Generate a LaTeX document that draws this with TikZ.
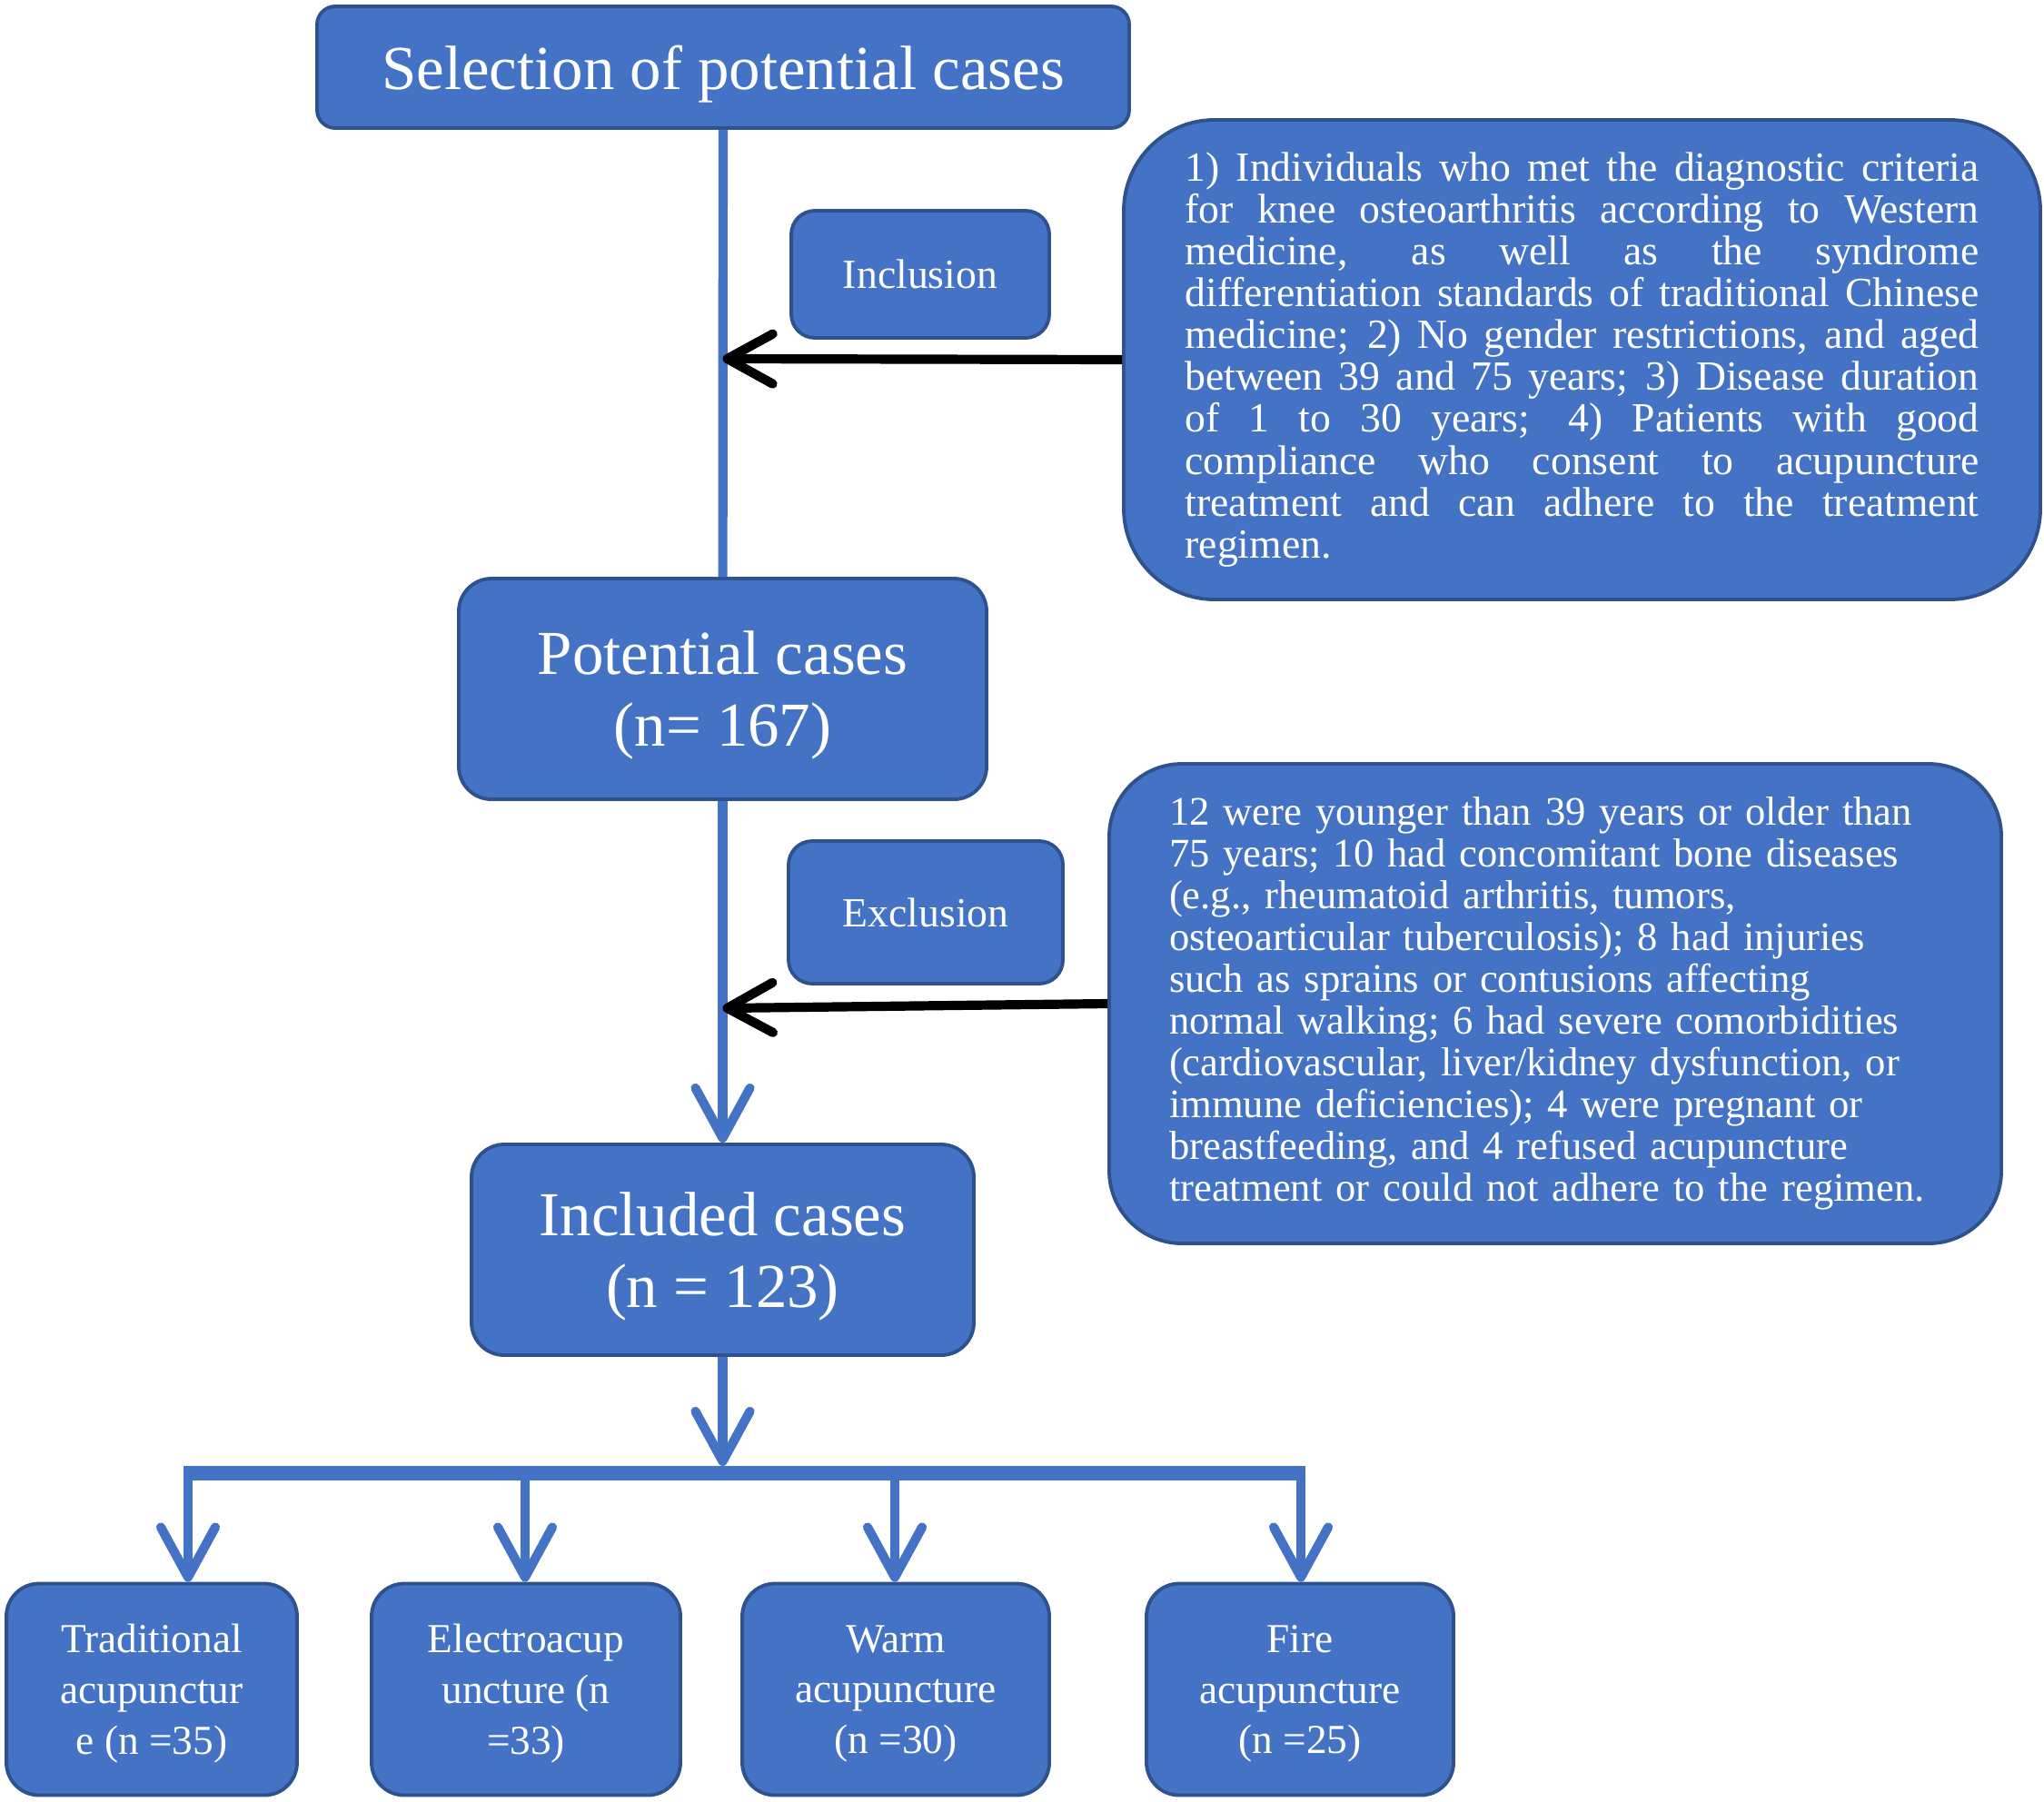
\documentclass[tikz,border=0pt]{standalone}
\usepackage{fontspec}
\setmainfont{Liberation Serif}
\usetikzlibrary{arrows.meta,calc}
\definecolor{boxblue}{RGB}{68,114,196}
\definecolor{edgeblue}{RGB}{47,82,143}
\tikzset{
  block/.style={draw=edgeblue, line width=1.1pt, fill=boxblue, text=white, align=center, inner sep=0pt},
  bigtext/.style={font=\fontsize{19.6}{22.5}\selectfont, text depth=0pt},
  midtext/.style={font=\fontsize{13}{15}\selectfont},
  armtext/.style={font=\fontsize{12.9}{15.9}\selectfont, text depth=0pt},
  notetext/.style={font=\fontsize{13}{13.1}\selectfont},
  droptext/.style={font=\fontsize{12.7}{13.1}\selectfont},
  flow/.style={boxblue, line width=2.9pt},
  flowhead/.style={flow, -{Straight Barb[length=0.55cm,width=0.6cm,round]}},
  pointer/.style={black, line width=2.9pt, -{Straight Barb[length=0.5cm,width=0.55cm,round]}}
}

\begin{document}
\begin{tikzpicture}
    \useasboundingbox (0,0) rectangle (22.5,-19.83);
    % main column
    \node [block, bigtext, rounded corners=0.2cm, minimum width=8.94cm, minimum height=1.34cm] (sel) at (7.96,-0.74) {Selection of potential cases};
    \node [block, bigtext, rounded corners=0.36cm, minimum width=5.81cm, minimum height=2.43cm] (pot) at (7.955,-7.585) {Potential cases\\(n= 167)};
    \node [block, bigtext, rounded corners=0.36cm, minimum width=5.53cm, minimum height=2.32cm] (inc) at (7.955,-13.76) {Included cases\\(n = 123)};
    % labels beside the column
    \node [block, midtext, rounded corners=0.26cm, minimum width=2.84cm, minimum height=1.40cm] (incl) at (10.13,-3.02) {Inclusion};
    \node [block, midtext, rounded corners=0.26cm, minimum width=3.02cm, minimum height=1.57cm] (excl) at (10.19,-10.045) {Exclusion};
    % criteria
    \node [block, notetext, rounded corners=1cm, minimum width=10.09cm, minimum height=5.28cm, text width=8.74cm, align=justify] (crit) at (17.415,-3.96)
    {\emergencystretch=1em 1) Individuals who met the diagnostic criteria\linebreak
    for knee osteoarthritis according to Western\linebreak
    medicine, as well as the syndrome\linebreak
    differentiation standards of traditional Chinese\linebreak
    medicine; 2) No gender restrictions, and aged\linebreak
    between 39 and 75 years; 3) Disease duration\linebreak
    of 1 to 30 years; 4) Patients with good\linebreak
    compliance who consent to acupuncture\linebreak
    treatment and can adhere to the treatment\linebreak
    regimen.};
    \node [block, droptext, rounded corners=0.8cm, minimum width=9.82cm, minimum height=5.28cm, text width=8.5cm, align=left] (drop) at (17.12,-11.05)
    {\hyphenpenalty=10000 12 were younger than 39 years or older than\\
    75 years; 10 had concomitant bone diseases\\
    (e.g., rheumatoid arthritis, tumors,\\
    osteoarticular tuberculosis); 8 had injuries\\
    such as sprains or contusions affecting\\
    normal walking; 6 had severe comorbidities\\
    (cardiovascular, liver/kidney dysfunction, or\\
    immune deficiencies); 4 were pregnant or\\
    breastfeeding, and 4 refused acupuncture\\
    treatment or could not adhere to the regimen.};
    % groups
    \node [block, armtext, rounded corners=0.36cm, minimum width=3.20cm, minimum height=2.33cm] (trad) at (1.67,-18.6) {Traditional\\acupunctur\\e (n =35)};
    \node [block, armtext, rounded corners=0.36cm, minimum width=3.40cm, minimum height=2.33cm] (elec) at (5.79,-18.6) {Electroacup\\uncture (n\\=33)};
    \node [block, armtext, rounded corners=0.36cm, minimum width=3.38cm, minimum height=2.33cm] (warm) at (9.86,-18.6) {Warm\\acupuncture\\(n =30)};
    \node [block, armtext, rounded corners=0.36cm, minimum width=3.38cm, minimum height=2.33cm] (fire) at (14.31,-18.6) {Fire\\acupuncture\\(n =25)};
    \coordinate (intip) at (7.955,-3.95);
    \coordinate (extip) at (7.955,-11.10);
    \coordinate (split) at (7.955,-16.22);
    \coordinate (b1) at (2.07,-16.22);
    \coordinate (b2) at (5.78,-16.22);
    \coordinate (b3) at (9.85,-16.22);
    \coordinate (b4) at (14.32,-16.22);
    \draw [flow] (sel) -- (pot);
    \draw [flowhead] (pot) -- (inc);
    \draw [flowhead, shorten >=0.08cm] (inc) -- (split);
    \draw [boxblue, line width=4.8pt] ($(b1)+(-0.05,0)$) -- ($(b4)+(0.05,0)$);
    \draw [flowhead] (b1) -- (b1 |- trad.north);
    \draw [flowhead] (b2) -- (b2 |- elec.north);
    \draw [flowhead] (b3) -- (b3 |- warm.north);
    \draw [flowhead] (b4) -- (b4 |- fire.north);
    \draw [pointer] (crit.west) -- (intip);
    \draw [pointer] (drop.west) -- (extip);
\end{tikzpicture}
\end{document}
